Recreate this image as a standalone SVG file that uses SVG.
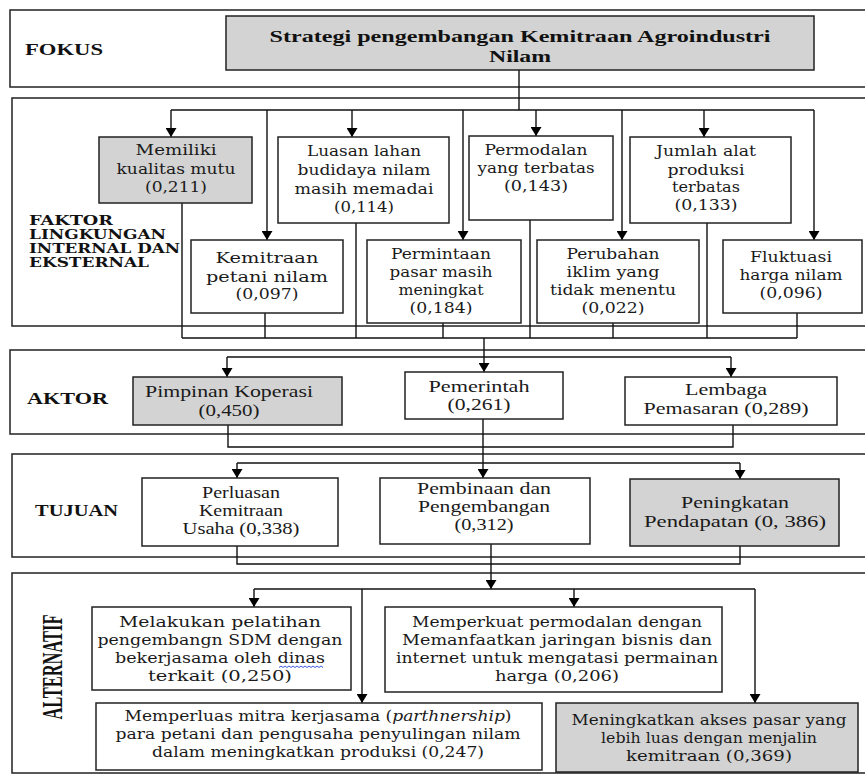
<svg xmlns="http://www.w3.org/2000/svg" width="865" height="776" viewBox="0 0 865 776">
<style>
.sec{fill:#fff;stroke:#222;stroke-width:1.5}
.box{fill:#fff;stroke:#222;stroke-width:1.5}
.gray{fill:#d3d3d3}
.c{fill:none;stroke:#111;stroke-width:1.4}
.t{font-family:"DejaVu Serif","Liberation Serif",serif;font-size:15px;text-anchor:middle;fill:#1a1a1a}
.ta{font-family:"DejaVu Serif","Liberation Serif",serif;font-size:15px;text-anchor:middle;fill:#1a1a1a}
.tt{font-family:"Liberation Serif","Times New Roman",serif;font-size:17px;text-anchor:middle;fill:#1a1a1a}
.lab{font-family:"Liberation Serif","Times New Roman",serif;font-weight:bold;font-size:17px;fill:#111}
.labf{font-family:"DejaVu Serif","Liberation Serif",serif;font-weight:bold;font-size:12px;fill:#111}
.title{font-family:"Liberation Serif","Times New Roman",serif;font-weight:bold;font-size:17px;text-anchor:middle;fill:#111}
</style>
<defs>
<marker id="ah" markerUnits="userSpaceOnUse" markerWidth="9" markerHeight="11" viewBox="0 0 9 11" refX="9" refY="5.5" orient="auto"><path d="M0,0 L9,5.5 L0,11 z" fill="#000"/></marker>
</defs>

<!-- Sections -->
<g id="sections">
<rect class="sec" x="10" y="10" width="870" height="77"/>
<rect class="sec" x="12" y="98" width="870" height="228"/>
<rect class="sec" x="10" y="350" width="870" height="84"/>
<rect class="sec" x="12" y="454" width="870" height="103"/>
<rect class="sec" x="12" y="573" width="870" height="200"/>
</g>

<g id="labels">
<text class="lab" x="25" y="55" textLength="78" lengthAdjust="spacingAndGlyphs">FOKUS</text>
<text class="labf" x="29" y="225" textLength="84" lengthAdjust="spacingAndGlyphs">FAKTOR</text>
<text class="labf" x="29" y="239" textLength="137" lengthAdjust="spacingAndGlyphs">LINGKUNGAN</text>
<text class="labf" x="29" y="253" textLength="151" lengthAdjust="spacingAndGlyphs">INTERNAL DAN</text>
<text class="labf" x="29" y="267" textLength="120" lengthAdjust="spacingAndGlyphs">EKSTERNAL</text>
<text class="lab" x="27" y="404" textLength="81" lengthAdjust="spacingAndGlyphs">AKTOR</text>
<text class="lab" x="35" y="516" textLength="83" lengthAdjust="spacingAndGlyphs">TUJUAN</text>
<text class="lab" style="font-size:29px" text-anchor="middle" transform="translate(62,667) rotate(-90)" textLength="105" lengthAdjust="spacingAndGlyphs">ALTERNATIF</text>
</g>

<!-- Connectors -->
<g id="connectors">
<path class="c" d="M519,70 V110 M171,110 H814"/>
<path class="c" d="M171,110 V137" marker-end="url(#ah)"/>
<path class="c" d="M267,110 V240" marker-end="url(#ah)"/>
<path class="c" d="M352,110 V137" marker-end="url(#ah)"/>
<path class="c" d="M463,110 V240" marker-end="url(#ah)"/>
<path class="c" d="M536,110 V136" marker-end="url(#ah)"/>
<path class="c" d="M622,110 V240" marker-end="url(#ah)"/>
<path class="c" d="M704,110 V137" marker-end="url(#ah)"/>
<path class="c" d="M814,110 V240" marker-end="url(#ah)"/>
<path class="c" d="M182,203 V338 M265,313 V338 M356,223 V338 M443,323 V338 M530,220 V338 M613,323 V338 M707,223 V338 M797,313 V338 M182,338 H797"/>
<path class="c" d="M484,338 V372" marker-end="url(#ah)"/>
<path class="c" d="M227,357 H731"/>
<path class="c" d="M227,357 V377" marker-end="url(#ah)"/>
<path class="c" d="M731,357 V377" marker-end="url(#ah)"/>
<path class="c" d="M228,425 V447 H733 V425"/>
<path class="c" d="M483,419 V478" marker-end="url(#ah)"/>
<path class="c" d="M237,463 H740"/>
<path class="c" d="M237,463 V478" marker-end="url(#ah)"/>
<path class="c" d="M740,463 V479" marker-end="url(#ah)"/>
<path class="c" d="M237,546 V564 H740 V546"/>
<path class="c" d="M491,544 V589" marker-end="url(#ah)"/>
<path class="c" d="M254,589 H755"/>
<path class="c" d="M254,589 V607" marker-end="url(#ah)"/>
<path class="c" d="M574,589 V607" marker-end="url(#ah)"/>
<path class="c" d="M362,589 V703" marker-end="url(#ah)"/>
<path class="c" d="M755,589 V703" marker-end="url(#ah)"/>
</g>

<!-- FOKUS -->
<g id="fokus">
<rect class="box gray" x="226" y="16" width="588" height="54"/>
<text class="title" x="520" y="42" textLength="501" lengthAdjust="spacingAndGlyphs">Strategi pengembangan Kemitraan Agroindustri</text>
<text class="title" x="520" y="62" textLength="62" lengthAdjust="spacingAndGlyphs">Nilam</text>
</g>

<!-- FAKTOR -->
<g id="memiliki">
<rect class="box gray" x="99" y="137" width="153" height="66"/>
<text class="t" x="176" y="155" textLength="81" lengthAdjust="spacingAndGlyphs">Memiliki</text>
<text class="t" x="176" y="174" textLength="119" lengthAdjust="spacingAndGlyphs">kualitas mutu</text>
<text class="t" x="176" y="192" textLength="62" lengthAdjust="spacingAndGlyphs">(0,211)</text>
</g>
<g id="luasan">
<rect class="box" x="278" y="137" width="171" height="86"/>
<text class="t" x="364" y="156" textLength="114" lengthAdjust="spacingAndGlyphs">Luasan lahan</text>
<text class="t" x="364" y="175" textLength="133" lengthAdjust="spacingAndGlyphs">budidaya nilam</text>
<text class="t" x="364" y="194" textLength="139" lengthAdjust="spacingAndGlyphs">masih memadai</text>
<text class="t" x="364" y="212" textLength="60" lengthAdjust="spacingAndGlyphs">(0,114)</text>
</g>
<g id="permodalan">
<rect class="box" x="469" y="136" width="144" height="84"/>
<text class="t" x="536" y="155" textLength="103" lengthAdjust="spacingAndGlyphs">Permodalan</text>
<text class="t" x="536" y="173" textLength="117" lengthAdjust="spacingAndGlyphs">yang terbatas</text>
<text class="t" x="536" y="191" textLength="64" lengthAdjust="spacingAndGlyphs">(0,143)</text>
</g>
<g id="jumlah">
<rect class="box" x="630" y="137" width="161" height="86"/>
<text class="t" x="706" y="156" textLength="100" lengthAdjust="spacingAndGlyphs">Jumlah alat</text>
<text class="t" x="706" y="175" textLength="77" lengthAdjust="spacingAndGlyphs">produksi</text>
<text class="t" x="706" y="192" textLength="68" lengthAdjust="spacingAndGlyphs">terbatas</text>
<text class="t" x="706" y="210" textLength="63" lengthAdjust="spacingAndGlyphs">(0,133)</text>
</g>
<g id="kemitraan">
<rect class="box" x="191" y="240" width="152" height="73"/>
<text class="t" x="267" y="263" textLength="103" lengthAdjust="spacingAndGlyphs">Kemitraan</text>
<text class="t" x="267" y="282" textLength="122" lengthAdjust="spacingAndGlyphs">petani nilam</text>
<text class="t" x="267" y="299" textLength="63" lengthAdjust="spacingAndGlyphs">(0,097)</text>
</g>
<g id="permintaan">
<rect class="box" x="367" y="240" width="154" height="83"/>
<text class="t" x="441" y="259" textLength="100" lengthAdjust="spacingAndGlyphs">Permintaan</text>
<text class="t" x="441" y="277" textLength="103" lengthAdjust="spacingAndGlyphs">pasar masih</text>
<text class="t" x="441" y="295" textLength="85" lengthAdjust="spacingAndGlyphs">meningkat</text>
<text class="t" x="441" y="313" textLength="63" lengthAdjust="spacingAndGlyphs">(0,184)</text>
</g>
<g id="perubahan">
<rect class="box" x="537" y="240" width="162" height="83"/>
<text class="t" x="613" y="259" textLength="93" lengthAdjust="spacingAndGlyphs">Perubahan</text>
<text class="t" x="613" y="277" textLength="93" lengthAdjust="spacingAndGlyphs">iklim yang</text>
<text class="t" x="613" y="295" textLength="126" lengthAdjust="spacingAndGlyphs">tidak menentu</text>
<text class="t" x="613" y="313" textLength="63" lengthAdjust="spacingAndGlyphs">(0,022)</text>
</g>
<g id="fluktuasi">
<rect class="box" x="723" y="240" width="139" height="73"/>
<text class="t" x="791" y="262" textLength="82" lengthAdjust="spacingAndGlyphs">Fluktuasi</text>
<text class="t" x="791" y="280" textLength="103" lengthAdjust="spacingAndGlyphs">harga nilam</text>
<text class="t" x="791" y="298" textLength="63" lengthAdjust="spacingAndGlyphs">(0,096)</text>
</g>

<!-- AKTOR -->
<g id="pimpinan">
<rect class="box gray" x="133" y="377" width="209" height="48"/>
<text class="tt" x="229" y="397" textLength="168" lengthAdjust="spacingAndGlyphs">Pimpinan Koperasi</text>
<text class="tt" x="229" y="416" textLength="61" lengthAdjust="spacingAndGlyphs">(0,450)</text>
</g>
<g id="pemerintah">
<rect class="box" x="405" y="372" width="158" height="47"/>
<text class="tt" x="479" y="392" textLength="101" lengthAdjust="spacingAndGlyphs">Pemerintah</text>
<text class="tt" x="479" y="410" textLength="63" lengthAdjust="spacingAndGlyphs">(0,261)</text>
</g>
<g id="lembaga">
<rect class="box" x="625" y="377" width="212" height="48"/>
<text class="tt" x="726" y="395" textLength="82" lengthAdjust="spacingAndGlyphs">Lembaga</text>
<text class="tt" x="726" y="414" textLength="165" lengthAdjust="spacingAndGlyphs">Pemasaran (0,289)</text>
</g>

<!-- TUJUAN -->
<g id="perluasan">
<rect class="box" x="142" y="478" width="196" height="68"/>
<text class="tt" x="241" y="498" textLength="78" lengthAdjust="spacingAndGlyphs">Perluasan</text>
<text class="tt" x="241" y="516" textLength="84" lengthAdjust="spacingAndGlyphs">Kemitraan</text>
<text class="tt" x="241" y="534" textLength="117" lengthAdjust="spacingAndGlyphs">Usaha (0,338)</text>
</g>
<g id="pembinaan">
<rect class="box" x="380" y="478" width="210" height="66"/>
<text class="tt" x="484" y="494" textLength="134" lengthAdjust="spacingAndGlyphs">Pembinaan dan</text>
<text class="tt" x="484" y="512" textLength="132" lengthAdjust="spacingAndGlyphs">Pengembangan</text>
<text class="tt" x="484" y="530" textLength="59" lengthAdjust="spacingAndGlyphs">(0,312)</text>
</g>
<g id="peningkatan">
<rect class="box gray" x="630" y="479" width="209" height="67"/>
<text class="tt" x="735" y="508" textLength="108" lengthAdjust="spacingAndGlyphs">Peningkatan</text>
<text class="tt" x="735" y="527" textLength="182" lengthAdjust="spacingAndGlyphs">Pendapatan (0, 386)</text>
</g>

<!-- ALTERNATIF -->
<g id="pelatihan">
<rect class="box" x="92" y="607" width="259" height="83"/>
<text class="ta" x="220" y="627" textLength="202" lengthAdjust="spacingAndGlyphs">Melakukan pelatihan</text>
<text class="ta" x="220" y="645" textLength="245" lengthAdjust="spacingAndGlyphs">pengembangn SDM dengan</text>
<text class="ta" x="220" y="663" textLength="210" lengthAdjust="spacingAndGlyphs">bekerjasama oleh dinas</text>
<text class="ta" x="220" y="681" textLength="144" lengthAdjust="spacingAndGlyphs">terkait (0,250)</text>
<path d="M279,667.5 l2,-1.5 l2,1.5 l2,-1.5 l2,1.5 l2,-1.5 l2,1.5 l2,-1.5 l2,1.5 l2,-1.5 l2,1.5 l2,-1.5 l2,1.5 l2,-1.5 l2,1.5 l2,-1.5 l2,1.5 l2,-1.5 l2,1.5 l2,-1.5 l2,1.5 l2,-1.5 l2,1.5" fill="none" stroke="#3b5bdb" stroke-width="1"/>
</g>
<g id="permodalan-alt">
<rect class="box" x="385" y="607" width="337" height="85"/>
<text class="ta" x="557" y="627" textLength="290" lengthAdjust="spacingAndGlyphs">Memperkuat permodalan dengan</text>
<text class="ta" x="557" y="645" textLength="310" lengthAdjust="spacingAndGlyphs">Memanfaatkan jaringan bisnis dan</text>
<text class="ta" x="557" y="663" textLength="322" lengthAdjust="spacingAndGlyphs">internet untuk mengatasi permainan</text>
<text class="ta" x="557" y="681" textLength="124" lengthAdjust="spacingAndGlyphs">harga (0,206)</text>
</g>
<g id="mitra">
<rect class="box" x="96" y="703" width="446" height="67"/>
<text class="ta" x="318" y="721" textLength="387" lengthAdjust="spacingAndGlyphs">Memperluas mitra kerjasama (<tspan font-style="italic">parthnership</tspan>)</text>
<text class="ta" x="318" y="739" textLength="405" lengthAdjust="spacingAndGlyphs">para petani dan pengusaha penyulingan nilam</text>
<text class="ta" x="318" y="757" textLength="332" lengthAdjust="spacingAndGlyphs">dalam meningkatkan produksi (0,247)</text>
</g>
<g id="akses">
<rect class="box gray" x="556" y="703" width="302" height="69"/>
<text class="ta" x="709" y="725" textLength="275" lengthAdjust="spacingAndGlyphs">Meningkatkan akses pasar yang</text>
<text class="ta" x="709" y="743" textLength="216" lengthAdjust="spacingAndGlyphs">lebih luas dengan menjalin</text>
<text class="ta" x="709" y="761" textLength="166" lengthAdjust="spacingAndGlyphs">kemitraan (0,369)</text>
</g>
</svg>
